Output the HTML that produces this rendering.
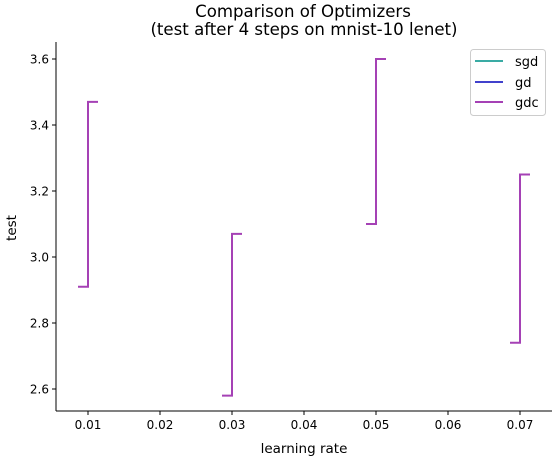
<!DOCTYPE html>
<html><head><meta charset="utf-8"><style>
body{margin:0;background:#fff;font-family:"Liberation Sans","DejaVu Sans",sans-serif}
svg text{font-family:"DejaVu Sans","Liberation Sans",sans-serif;fill:#000}
</style></head><body>
<svg id="chart" width="560" height="460" xmlns="http://www.w3.org/2000/svg">
<text x="303" y="17" font-size="16.6" text-anchor="middle">Comparison of Optimizers</text>
<text x="304" y="35" font-size="16.6" text-anchor="middle">(test after 4 steps on mnist-10 lenet)</text>
<g id="axes"></g>
<g id="marks"></g>
<text x="304" y="453" font-size="13.5" text-anchor="middle">learning rate</text>
<text x="16" y="228" font-size="13.5" text-anchor="middle" transform="rotate(-90 16 228)">test</text>
<g>
<rect x="470.5" y="49.5" width="75" height="66" rx="3" fill="#fff" stroke="#ccc"/>
<line x1="475" y1="61" x2="503" y2="61" stroke="#3aaba4" stroke-width="2"/>
<text x="515" y="66" font-size="13">sgd</text>
<line x1="475" y1="82" x2="503" y2="82" stroke="#4141cc" stroke-width="2"/>
<text x="515" y="87" font-size="13">gd</text>
<line x1="475" y1="102" x2="503" y2="102" stroke="#a541b5" stroke-width="2"/>
<text x="515" y="107" font-size="13">gdc</text>
</g>
</svg>
<script>
const learningRates=[0.01,0.03,0.05,0.07];
const gdcLow=[2.91,2.58,3.10,2.74];
const gdcHigh=[3.47,3.07,3.60,3.25];
const xTicks=[0.01,0.02,0.03,0.04,0.05,0.06,0.07];
const yTicks=[2.6,2.8,3.0,3.2,3.4,3.6];
const NS="http://www.w3.org/2000/svg";
const X=v=>88+(v-0.01)*7200;
const Y=v=>389-(v-2.6)*330;
const L=56,R=552,T=42,B=411;
const axes=document.getElementById('axes');
function mk(p,tag,attrs){const e=document.createElementNS(NS,tag);for(const k in attrs)e.setAttribute(k,attrs[k]);p.appendChild(e);return e;}
let a=mk(axes,'line',{x1:L,y1:T,x2:L,y2:B,stroke:'#000','stroke-width':1});


a=mk(axes,'line',{x1:L,y1:B,x2:R,y2:B,stroke:'#000','stroke-width':1});


xTicks.forEach(t=>{
 const x=X(t);
 mk(axes,'line',{x1:x,y1:B,x2:x,y2:B+4,stroke:'#000'});
 const tx=mk(axes,'text',{x:x,y:B+18,'font-size':12,'text-anchor':'middle'});
 tx.textContent=t.toFixed(2);
 
 
});
yTicks.forEach(t=>{
 const y=Y(t);
 mk(axes,'line',{x1:L-4,y1:y,x2:L,y2:y,stroke:'#000'});
 const tx=mk(axes,'text',{x:L-7,y:y+4.5,'font-size':12,'text-anchor':'end'});
 tx.textContent=t.toFixed(1);
 
 
});
const marks=document.getElementById('marks');
learningRates.forEach((lr,i)=>{
 const x=X(lr),y0=Y(gdcLow[i]),y1=Y(gdcHigh[i]);
 const p=mk(marks,'path',{d:`M${x-10},${y0}H${x}V${y1}H${x+10}`,fill:'none',stroke:'#a541b5','stroke-width':2});
 
 
});
</script>
</body></html>
